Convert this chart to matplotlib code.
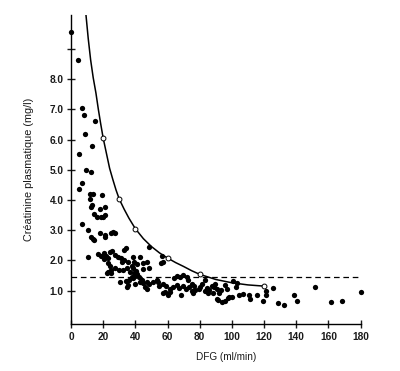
import matplotlib
matplotlib.use("Agg")
import matplotlib.pyplot as plt

plt.rcParams['font.family'] = ['Liberation Sans', 'DejaVu Sans']

# Patients : DFG (ml/min) et créatinine plasmatique (mg/l)
dfg = [
    0.0, 4.5, 6.7, 8.2, 14.8, 9.0, 12.8, 4.8, 9.4, 12.6, 6.8, 5.2,
    12.0, 13.9, 19.4, 11.9, 12.8, 12.2, 21.3, 18.0, 14.5, 16.1, 18.4, 19.7,
    21.1, 7.0, 10.6, 17.8, 12.6, 14.1, 13.5, 21.1, 21.3, 25.0, 27.1, 26.3,
    10.8, 17.0, 18.6, 20.3, 21.9, 20.7, 23.2, 24.4, 25.7, 27.3, 29.0, 31.1,
    34.0, 32.7, 35.6, 23.2, 24.4, 22.8, 24.8, 27.3, 29.8, 32.3, 34.8, 36.8,
    30.6, 34.0, 35.6, 33.0, 37.7, 34.8, 37.7, 25.0, 22.2, 31.7,
    38.7, 42.8, 48.2, 56.5, 57.3, 39.1, 41.2, 44.5, 47.4, 48.2, 38.7, 40.4,
    39.1, 41.2, 40.0, 42.0, 38.3, 39.5, 42.8, 44.9, 47.0, 48.6, 45.7, 47.4,
    45.0, 56.1, 53.2, 54.8, 50.7, 54.0, 57.3, 58.4, 59.0, 57.3, 60.6, 61.5,
    43.9, 35.8,
    61.5, 63.5, 65.6, 67.2, 68.1, 69.7, 71.4, 73.1, 75.1, 75.1, 76.3, 71.8,
    69.7, 67.7, 65.6, 63.9, 72.8, 77.2, 79.3, 75.6,
    80.2, 81.4, 83.1, 84.3, 86.0, 87.6, 89.3, 90.5, 88.4, 92.1, 93.4, 90.9,
    93.9, 95.5, 96.8, 98.4, 100.1, 100.9, 102.6, 103.4, 104.3, 107.1, 110.5,
    111.3, 115.5, 119.6, 120.9, 121.3, 125.5, 128.8, 132.5, 138.3, 140.4,
    151.8, 161.3, 168.7, 180.0,
    83.2, 85.3, 88.6, 91.1, 95.6, 97.7,
]
creat = [
    9.55, 8.62, 7.06, 6.81, 6.60, 6.18, 5.79, 5.53, 5.00, 4.93, 4.57, 4.35,
    4.21, 4.20, 4.16, 4.02, 3.84, 3.76, 3.78, 3.70, 3.53, 3.45, 3.43, 3.45,
    3.51, 3.21, 3.01, 2.92, 2.77, 2.68, 2.71, 2.85, 2.78, 2.92, 2.90, 2.95,
    2.13, 2.21, 2.16, 2.23, 2.14, 2.05, 2.09, 2.29, 2.31, 2.18, 2.13, 2.09,
    2.40, 2.02, 1.94, 1.91, 1.83, 1.61, 1.68, 1.74, 1.70, 1.69, 1.74, 1.61,
    1.30, 1.32, 1.19, 2.35, 1.82, 1.13, 1.46, 1.58, 1.58, 1.95,
    2.13, 2.13, 2.44, 2.14, 1.94, 1.96, 1.87, 1.91, 1.96, 1.74, 1.74, 1.65,
    1.58, 1.56, 1.50, 1.46, 1.41, 1.23, 1.30, 1.25, 1.30, 1.21, 1.13, 1.06,
    1.71, 1.91, 1.35, 1.16, 1.27, 1.30, 1.23, 0.97, 1.15, 0.91, 0.84, 0.95,
    1.35, 1.35,
    1.06, 1.13, 1.19, 1.10, 0.84, 1.15, 1.06, 1.13, 1.23, 0.99, 1.17, 1.45,
    1.52, 1.45, 1.48, 1.41, 1.35, 1.02, 1.07, 0.91,
    1.13, 1.23, 1.35, 1.08, 1.02, 1.16, 1.23, 1.07, 0.91, 0.91, 1.02, 0.74,
    0.63, 0.67, 1.07, 0.78, 0.80, 1.31, 1.11, 1.26, 0.85, 0.89, 0.85,
    0.74, 0.87, 0.65, 0.85, 0.98, 1.08, 0.60, 0.52, 0.87, 0.67,
    1.13, 0.64, 0.66, 0.96,
    0.98, 0.91, 1.11, 0.69, 1.19, 0.75,
]

# Courbe théorique et points repères (cercles blancs)
courbe_x = [9.3, 10.7, 12.2, 13.8, 15.5, 17.0, 18.4, 20.0, 22.0, 24.0, 26.0, 28.0, 30.0,
            33.0, 36.0, 40.0, 45.0, 50.0, 55.0, 60.0, 65.0, 70.0, 75.0, 80.0,
            90.0, 100.0, 110.0, 120.0]
courbe_y = [10.13, 9.35, 8.64, 8.05, 7.54, 7.0, 6.54, 6.05, 5.55, 5.05, 4.68, 4.33, 4.03,
            3.70, 3.40, 3.05, 2.72, 2.46, 2.25, 2.08, 1.93, 1.80, 1.66, 1.54,
            1.37, 1.26, 1.19, 1.15]
reperes_x = [20, 30, 40, 60, 80, 120]
reperes_y = [6.05, 4.03, 3.05, 2.08, 1.54, 1.15]

seuil = 1.44

xticks = [0, 20, 40, 60, 80, 100, 120, 140, 160, 180]
yticks = [1, 2, 3, 4, 5, 6, 7, 8, 9]
ylabels = ["1.0", "2.0", "3.0", "4.0", "5.0", "6.0", "7.0", "8.0", ""]

fig = plt.figure(figsize=(4.0, 3.71), dpi=100)
ax = fig.add_axes([0.1775, 0.127, 0.726, 0.833])

ax.plot(dfg, creat, 'o', color='black', markersize=3.8, markeredgewidth=0, clip_on=False, zorder=3)
ax.plot(courbe_x, courbe_y, '-', color='black', linewidth=1.1, zorder=2,
        solid_joinstyle='round', clip_on=True)
ax.plot(reperes_x, reperes_y, 'o', markerfacecolor='white', markeredgecolor='black',
        markersize=3.5, markeredgewidth=0.7, zorder=4)
ax.plot([0, 180], [seuil, seuil], color='black', linewidth=0.9, dashes=(4.5, 3), zorder=1)

ax.set_xlim(0, 180.5)
ax.set_ylim(-0.1, 10.13)
ax.spines['top'].set_visible(False)
ax.spines['right'].set_visible(False)
for s in ['left', 'bottom']:
    ax.spines[s].set_linewidth(1.0)

ax.set_xticks(xticks)
ax.set_yticks(yticks)
ax.set_yticklabels(ylabels)
ax.tick_params(direction='inout', length=6, width=1.0, labelsize=7.3, pad=2.2, colors='#1a1a1a')
ax.tick_params(axis='x', pad=3.2)
for lab in ax.get_xticklabels() + ax.get_yticklabels():
    lab.set_fontweight('bold')

ax.set_xlabel("DFG (ml/min)", fontsize=7.2, color='#1a1a1a')
ax.xaxis.set_label_coords(0.534, -0.106)
ax.xaxis.label.set_verticalalignment('center')
ax.set_ylabel("Créatinine plasmatique (mg/l)", fontsize=7.8, color='#1a1a1a')
ax.yaxis.set_label_coords(-0.145, 0.5)
ax.yaxis.label.set_verticalalignment('center')

fig.savefig("out.png", dpi=100)
